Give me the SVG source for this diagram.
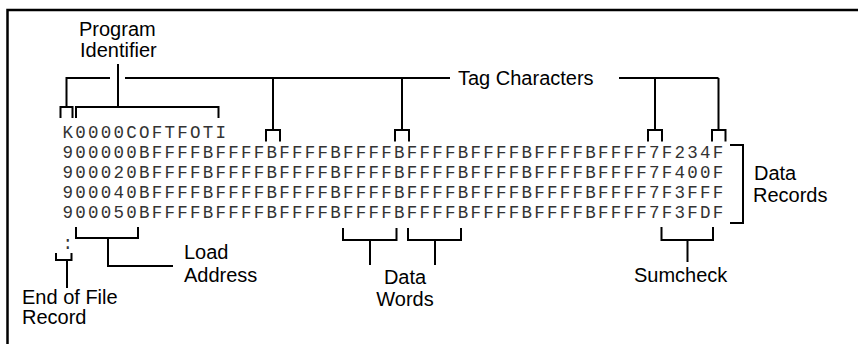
<svg xmlns="http://www.w3.org/2000/svg" width="858" height="344" viewBox="0 0 858 344">
<style>
.sans{font-family:"Liberation Sans",Arial,sans-serif;font-size:20px;fill:#000}
.mono{font-family:"Liberation Mono","Courier New",monospace;font-size:17.5px;letter-spacing:2.25px;fill:#333}
.ln{fill:none;stroke:#000;stroke-width:2;stroke-linejoin:miter}
.frame{fill:none;stroke:#000;stroke-width:2.5}
</style>
<rect width="858" height="344" fill="#fff"/>
<g id="frame"><path class="frame" d="M7.5 344 V10 H858"/></g>
<g id="record-text">
<text class="mono" x="62.5" y="138">K0000COFTFOTI</text>
<text class="mono" x="62.5" y="158">900000BFFFFBFFFFBFFFFBFFFFBFFFFBFFFFBFFFFBFFFF7F234F</text>
<text class="mono" x="62.5" y="178">900020BFFFFBFFFFBFFFFBFFFFBFFFFBFFFFBFFFFBFFFF7F400F</text>
<text class="mono" x="62.5" y="198">900040BFFFFBFFFFBFFFFBFFFFBFFFFBFFFFBFFFFBFFFF7F3FFF</text>
<text class="mono" x="62.5" y="218">900050BFFFFBFFFFBFFFFBFFFFBFFFFBFFFFBFFFFBFFFF7F3FDF</text>
<text class="mono" x="62.5" y="249">:</text>
</g>
<g id="program-identifier"><text class="sans" x="79" y="36">Program</text><text class="sans" x="80" y="57">Identifier</text></g>
<g id="tag-characters"><text class="sans" x="458" y="85">Tag Characters</text></g>
<g id="data-records"><text class="sans" x="754" y="180">Data</text><text class="sans" x="753" y="202">Records</text></g>
<g id="load-address"><text class="sans" x="184" y="259">Load</text><text class="sans" x="184" y="282">Address</text></g>
<g id="data-words"><text class="sans" x="405" y="284" text-anchor="middle">Data</text><text class="sans" x="405" y="306" text-anchor="middle">Words</text></g>
<g id="sumcheck"><text class="sans" x="634" y="282">Sumcheck</text></g>
<g id="end-of-file"><text class="sans" x="22" y="304">End of File</text><text class="sans" x="22" y="324">Record</text></g>
<g id="connectors">
<path class="ln" d="M60.5 118 V107 H72.5 V118 M66.5 107 V78 H110"/>
<path class="ln" d="M76 118 V107 H218.5 V118 M118 107 V64"/>
<path class="ln" d="M125 78 H450 M619 78 H718.5"/>
<path class="ln" d="M273 78 V130 M266 141.5 V130 H280 V141.5"/>
<path class="ln" d="M402 78 V130 M395 141.5 V130 H409 V141.5"/>
<path class="ln" d="M655 78 V130 M648 141.5 V130 H662 V141.5"/>
<path class="ln" d="M718.5 78 V130 M712 141.5 V130 H725.5 V141.5"/>
<path class="ln" d="M730 145 H743 V223 H730"/>
<path class="ln" d="M76 227 V238 H138 V227 M108 238 V266 H173"/>
<path class="ln" d="M343 228 V240 H396.5 V228 M370 240 V265"/>
<path class="ln" d="M408 228 V240 H461 V228 M435 240 V265"/>
<path class="ln" d="M661.5 227 V240 H713 V227 M687.5 240 V262"/>
<path class="ln" d="M56 253 V260 H71.5 V253 M67 260 V288"/>
</g>
</svg>
